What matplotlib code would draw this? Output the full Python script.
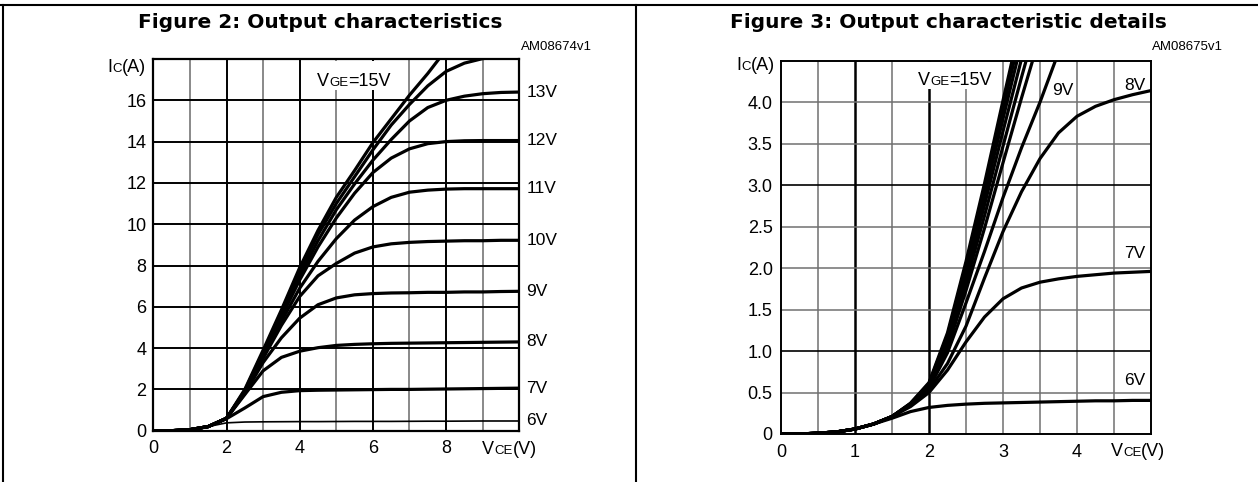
import matplotlib
matplotlib.use("Agg")
import matplotlib.pyplot as plt
from matplotlib.patches import Rectangle
from matplotlib.lines import Line2D

plt.rcParams["font.family"] = ["Liberation Sans", "DejaVu Sans"]

W, H = 1258, 482

# ----- Figure 2: output characteristics (VCE 0..10 V, step 0.5) -----
vce_full = [0, 0.5, 1, 1.5, 2, 2.5, 3, 3.5, 4, 4.5, 5, 5.5, 6, 6.5, 7, 7.5, 8, 8.5, 9, 9.5, 10]
full_labels = ["15V", "14V", "13V", "12V", "11V", "10V", "9V", "8V", "7V", "6V"]
ic_full = {
    "15V": [0, 0, 0.05, 0.2, 0.6, 2.0, 3.9, 5.85, 7.9, 9.7, 11.3, 12.6, 13.95, 15.1, 16.25, 17.3, 18.45],
    "14V": [0, 0, 0.05, 0.2, 0.6, 1.95, 3.8, 5.7, 7.7, 9.5, 11.0, 12.3, 13.6, 14.8, 15.8, 16.7, 17.4, 17.8, 18.02, 18.1, 18.12],
    "13V": [0, 0, 0.05, 0.2, 0.6, 1.9, 3.7, 5.6, 7.5, 9.2, 10.7, 11.95, 13.1, 14.1, 15.0, 15.65, 16.0, 16.2, 16.32, 16.38, 16.4],
    "12V": [0, 0, 0.05, 0.2, 0.6, 1.9, 3.65, 5.5, 7.3, 8.9, 10.3, 11.5, 12.5, 13.2, 13.65, 13.9, 14.0, 14.04, 14.05, 14.05, 14.05],
    "11V": [0, 0, 0.05, 0.2, 0.6, 1.85, 3.6, 5.3, 6.9, 8.2, 9.3, 10.2, 10.85, 11.3, 11.55, 11.65, 11.7, 11.72, 11.72, 11.72, 11.72],
    "10V": [0, 0, 0.05, 0.2, 0.6, 1.85, 3.5, 5.1, 6.5, 7.5, 8.1, 8.6, 8.9, 9.05, 9.12, 9.16, 9.18, 9.2, 9.2, 9.22, 9.22],
    "9V": [0, 0, 0.05, 0.2, 0.6, 1.8, 3.3, 4.5, 5.45, 6.1, 6.43, 6.58, 6.64, 6.67, 6.68, 6.7, 6.7, 6.72, 6.72, 6.74, 6.75],
    "8V": [0, 0, 0.05, 0.2, 0.6, 1.75, 2.9, 3.55, 3.85, 4.02, 4.13, 4.18, 4.21, 4.23, 4.24, 4.25, 4.26, 4.27, 4.28, 4.29, 4.3],
    "7V": [0, 0, 0.05, 0.2, 0.58, 1.1, 1.65, 1.86, 1.94, 1.96, 1.97, 1.98, 1.99, 2.0, 2.0, 2.01, 2.02, 2.03, 2.04, 2.05, 2.06],
    "6V": [0, 0, 0.05, 0.2, 0.38, 0.42, 0.43, 0.435, 0.44, 0.44, 0.445, 0.45, 0.45, 0.45, 0.455, 0.46, 0.46, 0.465, 0.47, 0.47, 0.47],
}
full_xticks = [0, 2, 4, 6, 8]
full_yticks = [0, 2, 4, 6, 8, 10, 12, 14, 16]
full_end_labels = ["13V", "12V", "11V", "10V", "9V", "8V", "7V", "6V"]

# ----- Figure 3: output characteristic details (VCE 0..5 V, step 0.25) -----
vce_det = [0, 0.25, 0.5, 0.75, 1, 1.25, 1.5, 1.75, 2, 2.25, 2.5, 2.75, 3, 3.25, 3.5, 3.75, 4, 4.25, 4.5, 4.75, 5]
ic_det = {
    "15V": [0, 0, 0.01, 0.025, 0.06, 0.12, 0.21, 0.37, 0.62, 1.22, 2.08, 3.02, 4.02, 5.0],
    "14V": [0, 0, 0.01, 0.025, 0.06, 0.12, 0.21, 0.37, 0.61, 1.19, 2.03, 2.95, 3.92, 4.88],
    "13V": [0, 0, 0.01, 0.025, 0.06, 0.12, 0.21, 0.36, 0.60, 1.16, 1.97, 2.87, 3.80, 4.72],
    "12V": [0, 0, 0.01, 0.025, 0.06, 0.12, 0.21, 0.36, 0.59, 1.12, 1.90, 2.76, 3.65, 4.52],
    "11V": [0, 0, 0.01, 0.025, 0.06, 0.12, 0.21, 0.36, 0.58, 1.08, 1.82, 2.63, 3.47, 4.30, 5.1],
    "10V": [0, 0, 0.01, 0.025, 0.06, 0.12, 0.21, 0.35, 0.57, 1.04, 1.73, 2.48, 3.27, 4.05, 4.8],
    "9V": [0, 0, 0.01, 0.025, 0.06, 0.12, 0.21, 0.35, 0.55, 0.98, 1.58, 2.2, 2.85, 3.45, 4.0, 4.6],
    "8V": [0, 0, 0.01, 0.025, 0.06, 0.12, 0.21, 0.35, 0.53, 0.85, 1.3, 1.88, 2.44, 2.92, 3.32, 3.63, 3.83, 3.95, 4.03, 4.09, 4.14],
    "7V": [0, 0, 0.01, 0.025, 0.06, 0.12, 0.21, 0.33, 0.5, 0.77, 1.11, 1.41, 1.63, 1.76, 1.83, 1.87, 1.9, 1.92, 1.94, 1.95, 1.96],
    "6V": [0, 0, 0.01, 0.025, 0.06, 0.12, 0.19, 0.27, 0.32, 0.345, 0.36, 0.37, 0.375, 0.38, 0.385, 0.39, 0.395, 0.4, 0.4, 0.405, 0.405],
}
det_xticks = [0, 1, 2, 3, 4]
det_yticks = [0, 0.5, 1.0, 1.5, 2.0, 2.5, 3.0, 3.5, 4.0]
det_ytick_labels = ["0", "0.5", "1.0", "1.5", "2.0", "2.5", "3.0", "3.5", "4.0"]


def rect(left, top, right, bottom):
    # pixel box -> figure fraction
    return [left / W, 1 - bottom / H, (right - left) / W, (bottom - top) / H]


def rich_text(fig, x, y, parts):
    # draw pieces of text one after the other on a common baseline (pixels)
    renderer = fig.canvas.get_renderer()
    x0 = x
    for s, size in parts:
        t = fig.text(x / W, 1 - y / H, s, fontsize=size, va="baseline", ha="left", zorder=5)
        x += t.get_window_extent(renderer).width
    return x0, x


def white_box(fig, x0, x1, top, bottom):
    fig.add_artist(Rectangle((x0 / W, 1 - bottom / H), (x1 - x0) / W, (bottom - top) / H,
                             transform=fig.transFigure, facecolor="white", edgecolor="none", zorder=4))


fig = plt.figure(figsize=(W / 100, H / 100), dpi=100)

# ---------------- left panel ----------------
ax1 = fig.add_axes(rect(153.3, 59, 519.3, 430.7))
ax1.set_xlim(0, 10)
ax1.set_ylim(0, 18)
for v in range(1, 10):
    if v % 2 == 0:
        ax1.axvline(v, color="black", lw=1.4, zorder=1)
    else:
        ax1.axvline(v, color="#6a6a6a", lw=1.1, zorder=1)
for a in range(2, 18, 2):
    ax1.axhline(a, color="black", lw=1.4, zorder=1)
for lab in full_labels:
    y = ic_full[lab]
    ax1.plot(vce_full[:len(y)], y, color="black", lw=1.2 if lab == "6V" else 2.3,
             solid_capstyle="butt", solid_joinstyle="round", zorder=3)
for lab in full_end_labels:
    ax1.annotate(lab, xy=(10, ic_full[lab][-1]), xytext=(5, 0), textcoords="offset points",
                 va="center", ha="left", fontsize=12.5, annotation_clip=False)
ax1.set_xticks(full_xticks)
ax1.set_xticklabels([str(v) for v in full_xticks])
ax1.set_yticks(full_yticks)
ax1.set_yticklabels([str(v) for v in full_yticks])
ax1.tick_params(length=0, labelsize=13)
ax1.tick_params(axis="x", pad=7)
ax1.tick_params(axis="y", pad=5)
for sp in ax1.spines.values():
    sp.set_linewidth(1.6)

# ---------------- right panel ----------------
ax2 = fig.add_axes(rect(781, 60.7, 1151, 434))
ax2.set_xlim(0, 5)
ax2.set_ylim(0, 4.5)
for i in range(1, 10):
    v = i * 0.5
    if v in (1, 2):
        ax2.axvline(v, color="black", lw=1.8, zorder=1)
    else:
        ax2.axvline(v, color="#707070", lw=1.1, zorder=1)
for i in range(1, 9):
    a = i * 0.5
    if a in (1.0, 3.0):
        ax2.axhline(a, color="black", lw=1.2, zorder=1)
    else:
        ax2.axhline(a, color="#707070", lw=1.1, zorder=1)
for lab in full_labels:
    y = ic_det[lab]
    ax2.plot(vce_det[:len(y)], y, color="black", lw=2.3, solid_capstyle="butt",
             solid_joinstyle="round", zorder=3)
ax2.text(3.66, 4.14, "9V", fontsize=12.5, va="center", ha="left")
ax2.text(4.92, 4.2, "8V", fontsize=12.5, va="center", ha="right")
ax2.text(4.92, 2.18, "7V", fontsize=12.5, va="center", ha="right")
ax2.text(4.92, 0.64, "6V", fontsize=12.5, va="center", ha="right")
ax2.set_xticks(det_xticks)
ax2.set_xticklabels([str(v) for v in det_xticks])
ax2.set_yticks(det_yticks)
ax2.set_yticklabels(det_ytick_labels)
ax2.tick_params(length=0, labelsize=13)
ax2.tick_params(axis="x", pad=7)
ax2.tick_params(axis="y", pad=6)
for sp in ax2.spines.values():
    sp.set_linewidth(1.4)

# ---------------- titles and labels ----------------
fig.text(320 / W, 1 - 28 / H, "Figure 2: Output characteristics", ha="center", va="baseline",
         fontsize=14.5, fontweight="bold", family=["DejaVu Sans"])
fig.text(948 / W, 1 - 28 / H, "Figure 3: Output characteristic details", ha="center", va="baseline",
         fontsize=14.5, fontweight="bold", family=["DejaVu Sans"])
fig.text(592 / W, 1 - 47 / H, "AM08674v1", ha="right", va="center", fontsize=9.5)
fig.text(1223 / W, 1 - 47 / H, "AM08675v1", ha="right", va="center", fontsize=9.5)

rich_text(fig, 107, 71.5, [("I", 13), ("C", 9.5), ("(A)", 13)])
rich_text(fig, 736, 70, [("I", 13), ("C", 9.5), ("(A)", 13)])
rich_text(fig, 482, 454, [("V", 13), ("CE", 9.5), ("(V)", 13)])
rich_text(fig, 1111, 456, [("V", 13), ("CE", 9.5), ("(V)", 13)])

x0, x1 = rich_text(fig, 317, 86.5, [("V", 13), ("GE", 9.5), ("=15V", 13)])
white_box(fig, x0 - 2, x1 + 2, 61, 90)
x0, x1 = rich_text(fig, 918, 85, [("V", 13), ("GE", 9.5), ("=15V", 13)])
white_box(fig, x0 - 2, x1 + 2, 62.5, 89)

# ---------------- page frame ----------------
fig.add_artist(Line2D([0, 1], [1 - 4.5 / H, 1 - 4.5 / H], color="black", lw=1.5, transform=fig.transFigure))
fig.add_artist(Line2D([3 / W, 3 / W], [0, 1 - 4.5 / H], color="black", lw=1.5, transform=fig.transFigure))
fig.add_artist(Line2D([635.5 / W, 635.5 / W], [0, 1 - 4.5 / H], color="black", lw=1.5, transform=fig.transFigure))

fig.savefig("out.png", dpi=100)
